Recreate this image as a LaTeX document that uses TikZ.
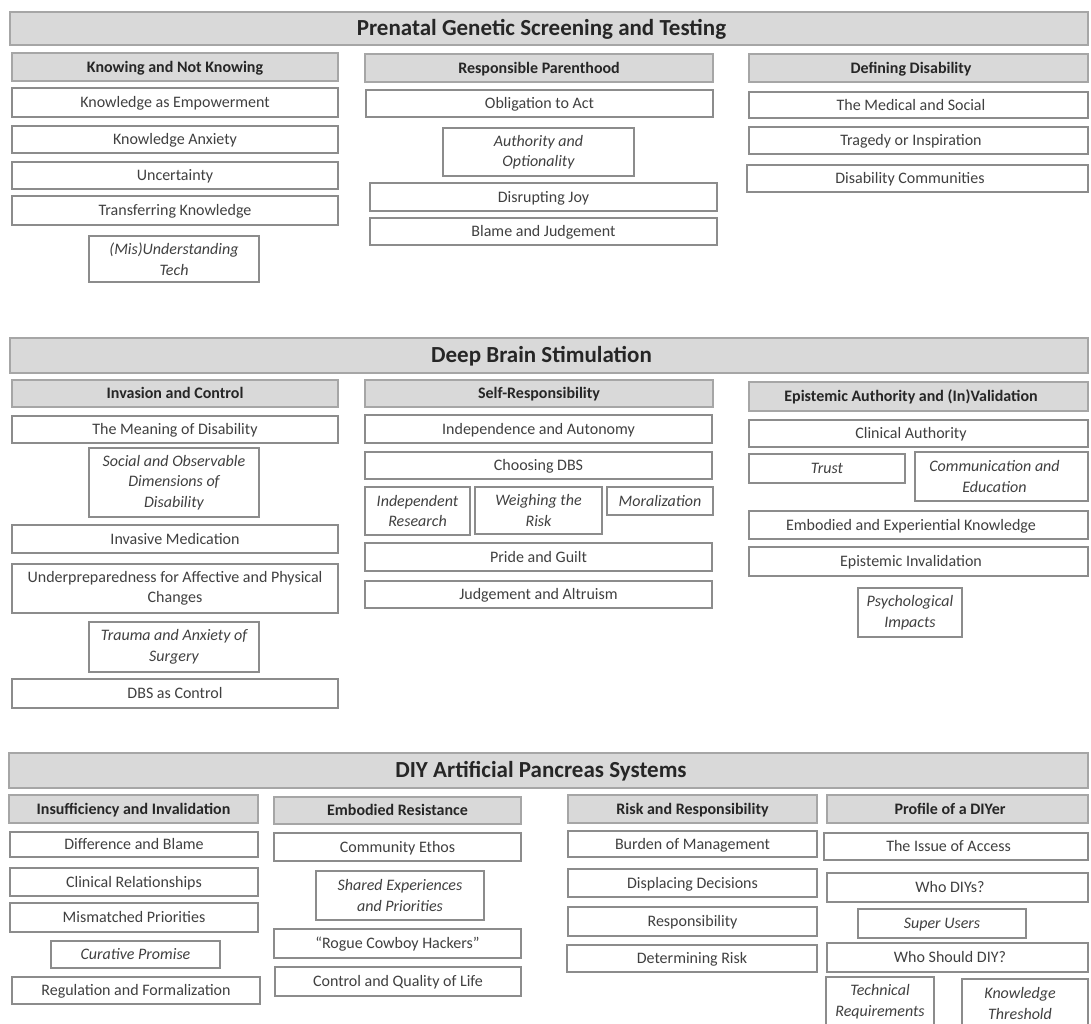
\documentclass[tikz,border=0pt]{standalone}
\usepackage{fontspec}
\setmainfont{Carlito}
\definecolor{hdrfill}{HTML}{D9D9D9}
\definecolor{hdrline}{HTML}{A6A6A6}
\definecolor{boxline}{HTML}{8C8C8C}
\definecolor{itemtext}{HTML}{404040}
\definecolor{hdrtext}{HTML}{262626}
\newcommand\rpad{\kern15pt}
\newcommand\bx[7]{\node[#2, minimum width={(#5)-(#3)}, minimum height={(#6)-(#4)}] (#1) at ({((#3)+(#5))/2},{((#4)+(#6))/2}) {#7};}
\tikzset{
 box/.style={draw=boxline, line width=1.2pt, rectangle, inner sep=0pt, outer sep=0pt, text=itemtext, font=\fontsize{16}{20.5}\selectfont},
 one/.style={text height=12pt, text depth=1.7pt},
 item/.style={box, one, fill=white},
 itemit/.style={item, font=\fontsize{16}{20.5}\selectfont\itshape},
 multi/.style={box, fill=white, align=center},
 multiit/.style={multi, font=\fontsize{16}{20.5}\selectfont\itshape},
 sub/.style={box, one, fill=hdrfill, draw=hdrline, text=hdrtext, font=\fontsize{16}{20}\selectfont\bfseries},
 main/.style={box, fill=hdrfill, draw=hdrline, text=hdrtext, text height=16pt, text depth=1.2pt, font=\fontsize{23}{28}\selectfont\bfseries},
}
\begin{document}
\begin{tikzpicture}[x=1pt,y=-1pt]
\useasboundingbox (0,0) rectangle (1091,1024);
\clip (0,0) rectangle (1091,1024);
\fill[white] (0,0) rectangle (1091,1024);
% ---------- Prenatal ----------
\bx{ph}{main}{10}{12}{1088}{45}{Prenatal Genetic Screening and Testing\rpad}
\bx{p1h}{sub}{12}{53}{338}{81}{Knowing and Not Knowing}
\bx{p1a}{item}{12}{88}{338}{117}{Knowledge as Empowerment}
\bx{p1b}{item}{12}{126}{338}{153}{Knowledge Anxiety}
\bx{p1c}{item}{12}{162}{338}{189}{Uncertainty}
\bx{p1d}{item}{12}{196}{338}{225}{Transferring Knowledge}
\bx{p1e}{multiit}{89}{236}{259}{282}{(Mis)Understanding\\Tech}
\bx{p2h}{sub}{365}{54}{713}{82}{Responsible Parenthood}
\bx{p2a}{item}{366}{90}{713}{117}{Obligation to Act}
\bx{p2b}{multiit}{443}{128}{634}{176}{Authority and\\Optionality}
\bx{p2c}{item}{370}{183}{717}{211}{Disrupting Joy}
\bx{p2d}{item}{370}{218}{717}{245}{Blame and Judgement}
\bx{p3h}{sub}{749}{54}{1088}{82}{Defining Disability\rpad}
\bx{p3a}{item}{749}{92}{1088}{118}{The Medical and Social\rpad}
\bx{p3b}{item}{749}{127}{1088}{154}{Tragedy or Inspiration\rpad}
\bx{p3c}{item}{747}{165}{1088}{192}{Disability Communities\rpad}
% ---------- DBS ----------
\bx{dh}{main}{10}{338}{1088}{373}{Deep Brain Stimulation\rpad}
\bx{d1h}{sub}{12}{380}{338}{407}{Invasion and Control}
\bx{d1a}{item}{12}{416}{338}{443}{The Meaning of Disability}
\bx{d1b}{multiit}{89}{448}{259}{517}{Social and Observable\\Dimensions of\\Disability}
\bx{d1c}{item}{12}{525}{338}{553}{Invasive Medication}
\bx{d1d}{multi}{12}{564}{338}{613}{Underpreparedness for Affective and Physical\\Changes}
\bx{d1e}{multiit}{89}{622}{259}{672}{Trauma and Anxiety of\\Surgery}
\bx{d1f}{item}{12}{679}{338}{708}{DBS as Control}
\bx{d2h}{sub}{365}{380}{713}{407}{Self-Responsibility}
\bx{d2a}{item}{365}{415}{712}{443}{Independence and Autonomy}
\bx{d2b}{item}{365}{452}{712}{479}{Choosing DBS}
\bx{d2c}{multiit}{365}{487}{470}{535}{Independent\\Research}
\bx{d2d}{multiit}{475}{487}{602}{534}{Weighing the\\Risk}
\bx{d2e}{itemit}{607}{487}{713}{515}{Moralization}
\bx{d2f}{item}{365}{543}{712}{571}{Pride and Guilt}
\bx{d2g}{item}{365}{581}{712}{608}{Judgement and Altruism}
\bx{d3h}{sub}{749}{382}{1088}{411}{Epistemic Authority and (In)Validation\rpad}
\bx{d3a}{item}{749}{420}{1088}{447}{Clinical Authority\rpad}
\bx{d3b}{itemit}{749}{454}{905}{483}{Trust}
\bx{d3c}{multiit}{915}{452}{1088}{501}{Communication and\kern14pt\\Education\kern14pt}
\bx{d3d}{item}{749}{511}{1088}{539}{Embodied and Experiential Knowledge\rpad}
\bx{d3e}{item}{749}{547}{1088}{576}{Epistemic Invalidation\rpad}
\bx{d3f}{multiit}{858}{588}{962}{637}{Psychological\\Impacts}
% ---------- DIY APS ----------
\bx{ah}{main}{9}{753}{1088}{788}{DIY Artificial Pancreas Systems\rpad}
\bx{a1h}{sub}{9}{795}{258}{823}{Insufficiency and Invalidation}
\bx{a1a}{item}{10}{832}{258}{857}{Difference and Blame}
\bx{a1b}{item}{10}{868}{258}{896}{Clinical Relationships}
\bx{a1c}{item}{10}{903}{258}{932}{Mismatched Priorities}
\bx{a1d}{itemit}{51}{941}{220}{968}{Curative Promise}
\bx{a1e}{item}{12}{977}{260}{1004}{Regulation and Formalization}
\bx{a2h}{sub}{274}{797}{521}{824}{Embodied Resistance}
\bx{a2a}{item}{274}{833}{521}{861}{Community Ethos}
\bx{a2b}{multiit}{316}{871}{484}{920}{Shared Experiences\\and Priorities}
\bx{a2c}{item}{274}{929}{521}{958}{“Rogue Cowboy Hackers”}
\bx{a2d}{item}{275}{967}{521}{996}{Control and Quality of Life}
\bx{a3h}{sub}{568}{795}{817}{823}{Risk and Responsibility}
\bx{a3a}{item}{568}{831}{817}{857}{Burden of Management}
\bx{a3b}{item}{568}{869}{817}{897}{Displacing Decisions}
\bx{a3c}{item}{568}{907}{817}{936}{Responsibility}
\bx{a3d}{item}{567}{945}{817}{972}{Determining Risk}
\bx{a4h}{sub}{827}{795}{1088}{823}{Profile of a DIYer\rpad}
\bx{a4a}{item}{824}{833}{1088}{860}{The Issue of Access\rpad}
\bx{a4b}{item}{827}{873}{1088}{902}{Who DIYs?\rpad}
\bx{a4c}{itemit}{858}{909}{1026}{938}{Super Users}
\bx{a4d}{item}{827}{943}{1088}{972}{Who Should DIY?\rpad}
\bx{a4e}{multiit}{826}{977}{934}{1026}{Technical\\Requirements}
\bx{a4f}{multiit}{962}{979}{1088}{1028}{Knowledge\kern10pt\\Threshold\kern10pt}
\end{tikzpicture}
\end{document}
